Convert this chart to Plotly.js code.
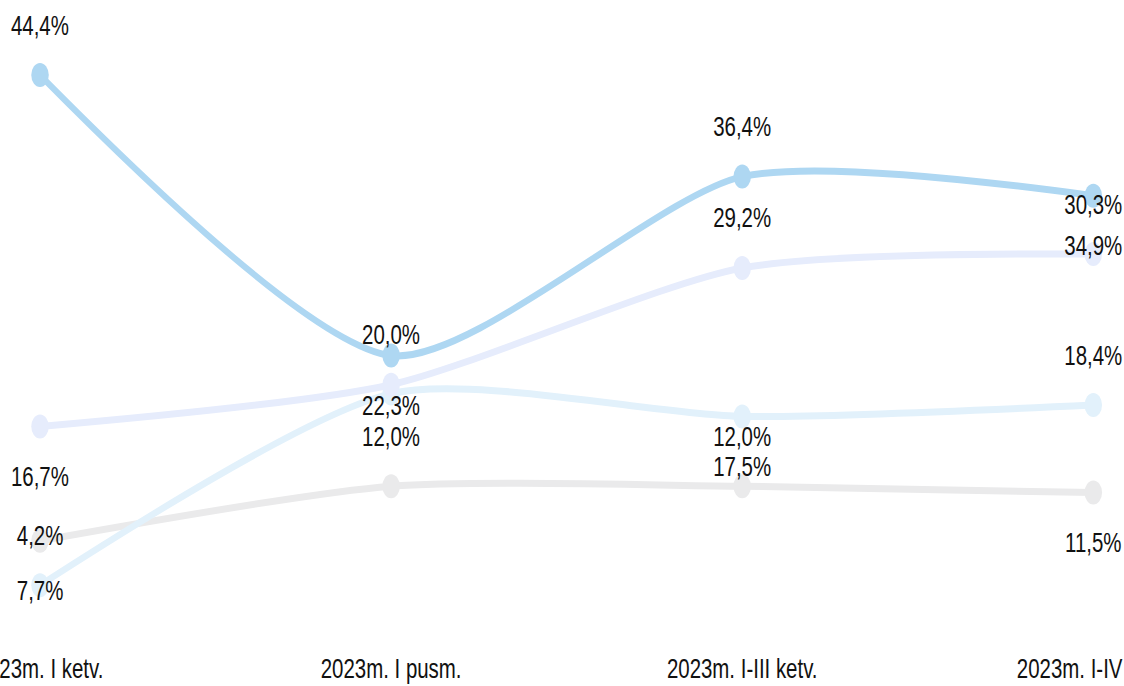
<!DOCTYPE html>
<html>
<head>
<meta charset="utf-8">
<script src="https://cdn.plot.ly/plotly-3.0.1.min.js"></script>
<style>
  html, body { margin: 0; padding: 0; background: #ffffff; overflow: hidden; width: 1124px; height: 686px; }
  #wrap { position: absolute; left: 0; top: 0; width: 1540px; height: 686px; transform: scaleX(0.73); transform-origin: 0 0; }
</style>
</head>
<body>
<div id="wrap"><div id="chart" style="width:1540px;height:686px;"></div></div>
<script>
// Categories (x axis tick labels)
const categories = ["2023m. I ketv.", "2023m. I pusm.", "2023m. I-III ketv.", "2023m. I-IV ketv."];

// Series values (percent)
const seriesA = [44.4, 22.3, 36.4, 34.9];   // blue
const seriesB = [16.7, 20.0, 29.2, 30.3];   // lavender
const seriesC = [4.2, 19.3, 17.5, 18.4];    // pale sky
const seriesD = [7.7, 12.0, 12.0, 11.5];    // grey

// label placement: 1 above, -1 below, 0 hidden
const placeA = [1, -1, 1, -1];
const placeB = [-1, 1, 1, 1];
const placeC = [1, 0, -1, 1];
const placeD = [-1, 1, 1, -1];

const series = [
  {name: "D", values: seriesD, place: placeD, color: "#EAEAEB"},
  {name: "C", values: seriesC, place: placeC, color: "#E2F1FB"},
  {name: "B", values: seriesB, place: placeB, color: "#E6ECFC"},
  {name: "A", values: seriesA, place: placeA, color: "#AED7F2"}
];

const fontFam = '"Liberation Sans", Arial, sans-serif';

const traces = series.map(s => ({
  type: "scatter",
  mode: "lines+markers",
  name: s.name,
  x: categories,
  y: s.values,
  line: {shape: "spline", smoothing: 0.7, width: 7, color: s.color},
  marker: {size: 24, color: s.color},
  cliponaxis: false,
  showlegend: false,
  hoverinfo: "skip"
}));

const fmt = v => v.toFixed(1).replace(".", ",") + "%";

const annotations = [];
series.forEach(s => {
  s.values.forEach((v, i) => {
    if (s.place[i] === 0) return;
    annotations.push({
      x: categories[i], y: v, xref: "x", yref: "y",
      text: fmt(v), showarrow: false,
      xanchor: "center", yanchor: "middle",
      yshift: 50 * s.place[i],
      font: {family: fontFam, size: 28, color: "#111111"}
    });
  });
});

const layout = {
  width: 1540, height: 686,
  margin: {l: 0, r: 0, t: 0, b: 46, pad: 0},
  paper_bgcolor: "#ffffff", plot_bgcolor: "#ffffff",
  font: {family: fontFam, size: 28, color: "#111111"},
  showlegend: false,
  xaxis: {
    type: "category",
    range: [-0.114, 3.088],
    showgrid: false, zeroline: false, showline: false,
    ticks: "outside", ticklen: 3, tickcolor: "rgba(0,0,0,0)",
    tickfont: {family: fontFam, size: 28, color: "#111111"},
    ticklabeloverflow: "allow",
    fixedrange: true
  },
  yaxis: {
    range: [-0.12, 50.32],
    visible: false,
    fixedrange: true
  },
  annotations: annotations,
  hovermode: false
};

Plotly.newPlot("chart", traces, layout, {staticPlot: true, displayModeBar: false});
</script>
</body>
</html>
